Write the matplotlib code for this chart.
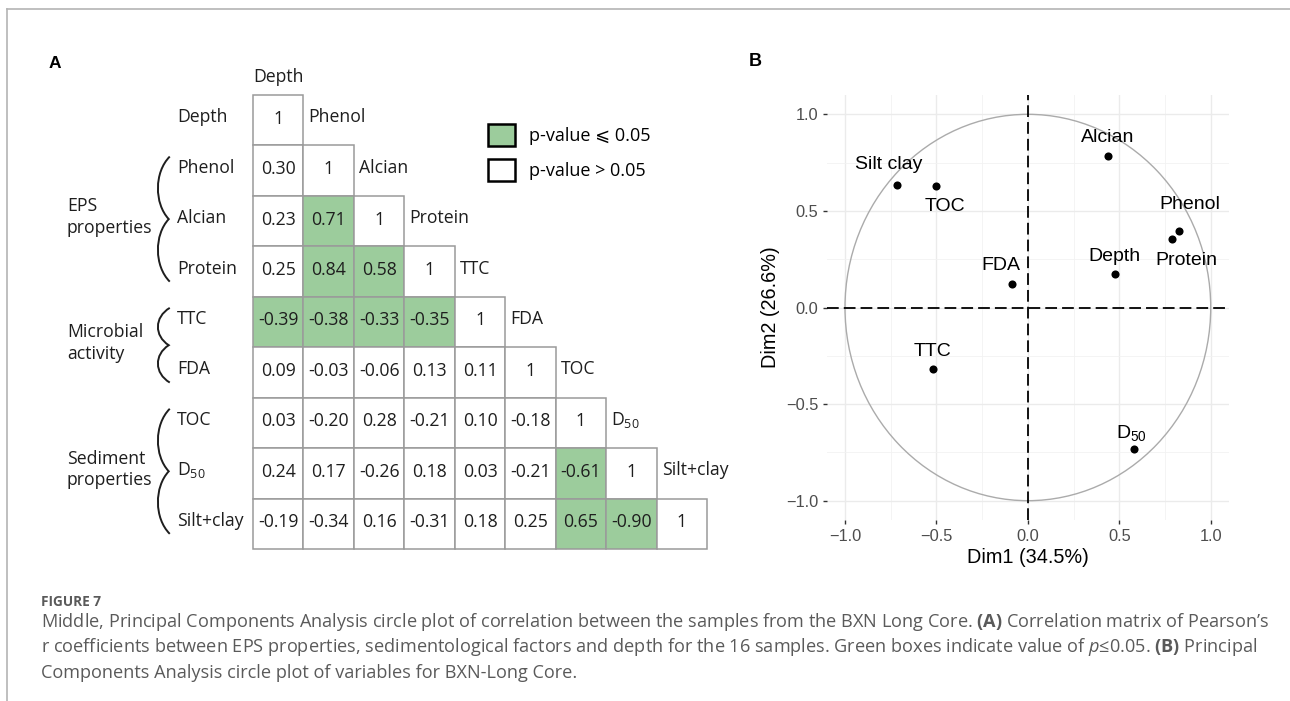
import matplotlib
matplotlib.use("Agg")
import matplotlib.pyplot as plt
from matplotlib.patches import Rectangle, PathPatch, Patch, Circle
from matplotlib.path import Path
from matplotlib.lines import Line2D
from matplotlib.font_manager import FontProperties

plt.rcParams["mathtext.fontset"] = "custom"
plt.rcParams["mathtext.rm"] = "Open Sans"
plt.rcParams["mathtext.it"] = "Open Sans:italic"
plt.rcParams["mathtext.bf"] = "Open Sans:bold"
plt.rcParams["mathtext.sf"] = "Liberation Sans"

# ---- panel A data: lower triangle of Pearson's r, row by row
variables = ["Depth", "Phenol", "Alcian", "Protein", "TTC", "FDA", "TOC",
             "D$_{50}$", "Silt+clay"]
corr_rows = [
    [1],
    [0.30, 1],
    [0.23, 0.71, 1],
    [0.25, 0.84, 0.58, 1],
    [-0.39, -0.38, -0.33, -0.35, 1],
    [0.09, -0.03, -0.06, 0.13, 0.11, 1],
    [0.03, -0.20, 0.28, -0.21, 0.10, -0.18, 1],
    [0.24, 0.17, -0.26, 0.18, 0.03, -0.21, -0.61, 1],
    [-0.19, -0.34, 0.16, -0.31, 0.18, 0.25, 0.65, -0.90, 1],
]
# 1 = p-value <= 0.05
signif_rows = [
    [0],
    [0, 0],
    [0, 1, 0],
    [0, 1, 1, 0],
    [1, 1, 1, 1, 0],
    [0, 0, 0, 0, 0, 0],
    [0, 0, 0, 0, 0, 0, 0],
    [0, 0, 0, 0, 0, 0, 1, 0],
    [0, 0, 0, 0, 0, 0, 1, 1, 0],
]
group_names = ["EPS\nproperties", "Microbial\nactivity", "Sediment\nproperties"]
group_first = [1, 4, 6]
group_last = [3, 5, 8]
legend_labels = ["p-value \u2a7d 0.05", "p-value > 0.05"]

# ---- panel B data: PCA variable coordinates
pca_names = ["Depth", "Phenol", "Alcian", "Protein", "TTC", "FDA", "TOC",
             r"$\mathsf{D_{50}}$", "Silt clay"]
dim1 = [0.474, 0.829, 0.437, 0.789, -0.519, -0.085, -0.500, 0.579, -0.716]
dim2 = [0.176, 0.398, 0.785, 0.354, -0.319, 0.124, 0.628, -0.733, 0.635]
# label offsets (repelled text) in data units
lab_dx = [0.0, 0.055, -0.003, 0.077, 0.0, -0.065, 0.045, -0.015, -0.046]
lab_dy = [0.087, 0.133, 0.093, -0.109, 0.091, 0.096, -0.106, 0.081, 0.107]
ticks = [-1.0, -0.5, 0.0, 0.5, 1.0]
tick_labels = ["\u22121.0", "\u22120.5", "0.0", "0.5", "1.0"]

caption_title = "FIGURE 7"
caption_lines = [
    "Middle, Principal Components Analysis circle plot of correlation between the samples "
    "from the BXN Long Core. $\\mathbf{(A)}$ Correlation matrix of Pearson\u2019s",
    "r coefficients between EPS properties, sedimentological factors and depth for the 16 "
    "samples. Green boxes indicate value of $p$\u22640.05. $\\mathbf{(B)}$ Principal",
    "Components Analysis circle plot of variables for BXN-Long Core.",
]

GREEN = "#9ccc9c"
W, H = 1290, 701
A_FONT = ["Open Sans", "DejaVu Sans"]
B_FONT = ["Liberation Sans", "DejaVu Sans"]

fig = plt.figure(figsize=(W / 100, H / 100), dpi=100)


def fx(px):
    return px / W


def fy(py):
    return 1 - py / H


# page frame (top and left rules)
fig.add_artist(Line2D([fx(7), 1.0], [fy(8.5), fy(8.5)], color="#b4b4b4", lw=1.2,
                      transform=fig.transFigure))
fig.add_artist(Line2D([fx(7), fx(7)], [fy(8.5), 0.0], color="#b4b4b4", lw=1.2,
                      transform=fig.transFigure))

# ================= panel A =================
n = len(variables)
axA = fig.add_axes([fx(253), fy(549), 454 / W, 454 / H])
axA.set_xlim(0, n)
axA.set_ylim(n, 0)
axA.axis("off")

for i, row in enumerate(corr_rows):
    for j, v in enumerate(row):
        fc = GREEN if signif_rows[i][j] else "white"
        axA.add_patch(Rectangle((j, i), 1, 1, facecolor=fc, edgecolor="#9a9a9a",
                                lw=1.1, clip_on=False))
        txt = "1" if i == j else f"{v:.2f}"
        axA.text(j + 0.5, i + 0.47, txt, ha="center", va="center", fontsize=12.7,
                 family=A_FONT, color="#1e1e1e")

# column labels: first above, the rest beside the diagonal
axA.text(0.0, -0.36, variables[0], ha="left", va="center", fontsize=12.7,
         family=A_FONT, color="#1e1e1e")
for k in range(1, n):
    axA.text(k + 0.1, k - 1 + 0.44, variables[k], ha="left", va="center",
             fontsize=12.7, family=A_FONT, color="#1e1e1e")

# row labels
for i in range(n):
    axA.text(-1.51, i + 0.44, variables[i], ha="left", va="center", fontsize=12.7,
             family=A_FONT, color="#1e1e1e")

# braces + group labels
xr, xc = -1.65, -1.96
for name, g0, g1 in zip(group_names, group_first, group_last):
    top, bot = g0 + 0.22, g1 + 1 - 0.3
    mid = (top + bot) / 2
    h = mid - top
    verts = [(xr, top), (xc, top + 0.25 * h), (xc, mid - 0.25 * h), (xr - 0.02, mid),
             (xc, mid + 0.25 * h), (xc, bot - 0.25 * h), (xr, bot)]
    codes = [Path.MOVETO] + [Path.CURVE4] * 6
    axA.add_patch(PathPatch(Path(verts, codes), fill=False, lw=1.4, color="#1e1e1e",
                            clip_on=False))
    axA.text(-3.69, mid - 0.04, name, ha="left", va="center", fontsize=12.7,
             family=A_FONT, color="#1e1e1e", linespacing=1.25)

handles = [Patch(facecolor=GREEN, edgecolor="black", lw=1.8),
           Patch(facecolor="white", edgecolor="black", lw=1.8)]
axA.legend(handles, legend_labels, loc="upper left", bbox_to_anchor=(4.66, 0.58),
           bbox_transform=axA.transData, frameon=False, borderpad=0, borderaxespad=0,
           handlelength=1.5, handleheight=1.5, handletextpad=0.75, labelspacing=0.68,
           prop=FontProperties(family=A_FONT, size=13))

fig.text(fx(55), fy(63), "A", ha="center", va="center", fontsize=12.5,
         fontweight="bold", family=B_FONT)

# ================= panel B =================
axB = fig.add_axes([fx(826.7), fy(520), (1229 - 826.7) / W, (520 - 95) / H])
axB.set_xlim(-1.1, 1.1)
axB.set_ylim(-1.1, 1.1)
for s in axB.spines.values():
    s.set_visible(False)
axB.set_xticks(ticks)
axB.set_yticks(ticks)
axB.set_xticklabels(tick_labels)
axB.set_yticklabels(tick_labels)
axB.set_xticks([-0.75, -0.25, 0.25, 0.75], minor=True)
axB.set_yticks([-0.75, -0.25, 0.25, 0.75], minor=True)
axB.grid(which="major", color="#ebebeb", lw=1.0)
axB.grid(which="minor", color="#f2f2f2", lw=0.6)
axB.set_axisbelow(True)
axB.tick_params(which="major", length=3.2, width=1.0, color="#333333",
                labelcolor="#4d4d4d", labelsize=11.8, pad=3)
axB.tick_params(which="minor", length=0)
for lab in axB.get_xticklabels() + axB.get_yticklabels():
    lab.set_family(B_FONT)

axB.add_patch(Circle((0, 0), 1, fill=False, edgecolor="#ababab", lw=1.0))
axB.axhline(0, color="black", lw=1.3, linestyle=(0, (6.5, 2.8)))
axB.axvline(0, color="black", lw=1.3, linestyle=(0, (6.5, 2.8)))
axB.scatter(dim1, dim2, s=34, color="black", zorder=3, linewidths=0)
for name, x, y, dx, dy in zip(pca_names, dim1, dim2, lab_dx, lab_dy):
    axB.text(x + dx, y + dy, name, ha="center", va="center", fontsize=14,
             family=B_FONT, color="black")

axB.set_xlabel("Dim1 (34.5%)", fontsize=14.3, family=B_FONT, labelpad=3)
axB.set_ylabel("Dim2 (26.6%)", fontsize=14.3, family=B_FONT, labelpad=4)

fig.text(fx(755), fy(61), "B", ha="center", va="center", fontsize=13,
         fontweight="bold", family=B_FONT)

# ================= caption =================
fig.text(fx(41), fy(602), caption_title, ha="left", va="center", fontsize=9.8,
         fontweight="bold", family=A_FONT, color="#5a5a5a")
for k, line in enumerate(caption_lines):
    fig.text(fx(41), fy(622 + 25.5 * k), line, ha="left", va="center", fontsize=13.1,
             family=A_FONT, color="#5a5a5a")

fig.savefig("out.png", dpi=100)
